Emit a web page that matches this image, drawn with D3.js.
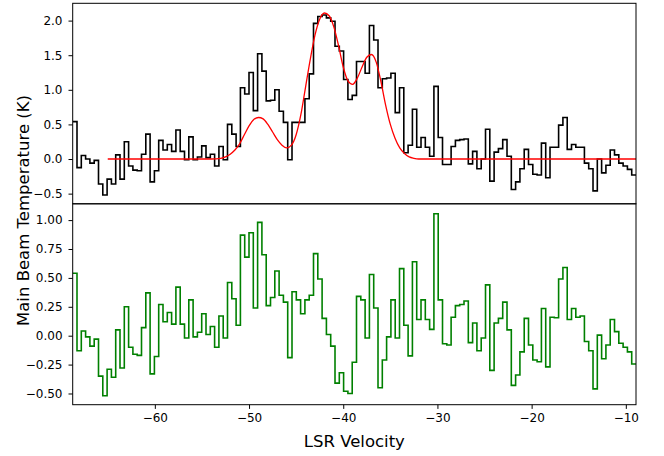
<!DOCTYPE html>
<html>
<head>
<meta charset="utf-8">
<script src="https://cdn.jsdelivr.net/npm/d3@7"></script>
<style>
  html, body { margin: 0; padding: 0; background: #fff; }
  svg { display: block; }
</style>
</head>
<body>
<script>
// channel grid of the spectrum (LSR velocity, km/s)
const vel0 = -68.72;
const chanWidth = 0.4565;

// observed spectrum (K), one value per channel
const dataK = [
  0.54, -0.125, 0.05, 0.00, -0.06, -0.02, -0.36, -0.52, -0.29, -0.36,
  0.06, -0.29, 0.25, -0.10, -0.16, -0.17, 0.07, 0.36, -0.33, -0.17,
  0.27, 0.13, 0.21, 0.11, 0.42, 0.11, -0.01, 0.32, -0.01, 0.03,
  0.19, 0.02, 0.07, -0.10, 0.18, -0.01, 0.50, 0.36, 0.18, 1.03,
  0.94, 1.25, 0.70, 1.52, 1.27, 0.84, 0.85, 1.00, 0.69, 0.53,
  -0.01, 0.53, 0.53, 0.53, 0.87, 1.23, 1.96, 2.06, 2.08, 2.04,
  1.99, 1.63, 1.56, 1.15, 0.86, 0.92, 1.41, 1.41, 1.24, 1.93,
  1.72, 1.03, 1.16, 1.17, 1.24, 0.67, 1.03, 0.09, 0.20, 0.72,
  0.17, 0.31, 0.17, 0.04, 1.05, 0.31, -0.08, -0.08, 0.18, 0.27,
  0.28, 0.29, -0.07, 0.11, -0.14, 0.00, 0.43, -0.32, 0.10, 0.15,
  0.28, 0.04, -0.44, -0.33, -0.14, 0.14, -0.08, -0.22, -0.23, 0.23,
  -0.27, 0.17, 0.17, 0.49, 0.60, 0.14, 0.21, 0.17, 0.17, -0.06,
  -0.14, -0.46, 0.00, -0.20, -0.09, 0.13, 0.06, -0.06, -0.10, -0.15,
  -0.23
];

// residual after subtracting the fit (K)
const residK = [
  0.54, -0.13, 0.04, -0.01, -0.09, -0.03, -0.35, -0.52, -0.29, -0.36,
  0.05, -0.28, 0.25, -0.10, -0.16, -0.17, 0.07, 0.37, -0.33, -0.18,
  0.27, 0.12, 0.20, 0.10, 0.42, 0.10, -0.02, 0.31, -0.01, 0.03,
  0.19, 0.01, 0.08, -0.10, 0.17, -0.02, 0.46, 0.32, 0.09, 0.87,
  0.68, 0.89, 0.24, 0.98, 0.70, 0.26, 0.33, 0.56, 0.35, 0.29,
  -0.19, 0.38, 0.31, 0.19, 0.31, 0.35, 0.71, 0.49, 0.15, 0.01,
  -0.09, -0.41, -0.32, -0.48, -0.50, -0.23, 0.34, 0.31, -0.02, 0.53,
  0.24, -0.45, -0.21, -0.01, 0.31, -0.02, 0.58, 0.09, -0.175, 0.64,
  0.14, 0.31, 0.14, 0.055, 1.055, 0.31, -0.07, -0.08, 0.16, 0.26,
  0.27, 0.30, -0.06, 0.11, -0.13, -0.02, 0.44, -0.30, 0.11, 0.15,
  0.29, 0.05, -0.43, -0.34, -0.14, 0.15, -0.08, -0.21, -0.225, 0.235,
  -0.27, 0.16, 0.155, 0.49, 0.59, 0.14, 0.235, 0.16, 0.17, -0.05,
  -0.13, -0.46, 0.005, -0.20, -0.08, 0.14, 0.035, -0.065, -0.10, -0.14,
  -0.245
];

// gaussian fit, sampled
const fitVel = [
  -65, -54, -53, -52.5, -52, -51.5, -51, -50.5, -50, -49.5,
  -49, -48.5, -48, -47.5, -47, -46.5, -46, -45.5, -45, -44.5,
  -44, -43.5, -43, -42.5, -42, -41.5, -41, -40.5, -40, -39.5,
  -39, -38.5, -38, -37.5, -37, -36.5, -36, -35.5, -35, -34.5,
  -34, -33.5, -33, -32.5, -32, -31, -8.9
];
const fitK = [
  0, 0, 0.01, 0.03, 0.07, 0.13, 0.22, 0.35, 0.48, 0.57,
  0.60, 0.58, 0.50, 0.39, 0.28, 0.20, 0.16, 0.20, 0.35, 0.64,
  1.04, 1.44, 1.79, 2.02, 2.11, 2.07, 1.91, 1.64, 1.33, 1.13,
  1.08, 1.17, 1.33, 1.47, 1.51, 1.40, 1.12, 0.78, 0.50, 0.30,
  0.16, 0.08, 0.03, 0.01, 0, 0, 0
];

const xTicks = [-60, -50, -40, -30, -20, -10];
const topTicks = [-0.5, 0, 0.5, 1, 1.5, 2];
const botTicks = [-0.5, -0.25, 0, 0.25, 0.5, 0.75, 1];

const W = 664, H = 456;
const axLeft = 72.7, axRight = 636, axTop = 3.3, axMid = 203.8, axBottom = 404.7;
const font = "DejaVu Sans, sans-serif";

const svg = d3.select("body").append("svg")
    .attr("width", W)
    .attr("height", H)
    .style("font-family", font);

const x = d3.scaleLinear().domain([-68.72, -8.92]).range([axLeft, axRight]);
const yTop = d3.scaleLinear().domain([-0.647, 2.25]).range([axMid, axTop]);
const yBot = d3.scaleLinear().domain([-0.597, 1.141]).range([axBottom, axMid]);

const defs = svg.append("defs");
defs.append("clipPath").attr("id", "clipTop")
  .append("rect").attr("x", axLeft).attr("y", axTop).attr("width", axRight - axLeft).attr("height", axMid - axTop);
defs.append("clipPath").attr("id", "clipBot")
  .append("rect").attr("x", axLeft).attr("y", axMid).attr("width", axRight - axLeft).attr("height", axBottom - axMid);

function stepPoints(vals) {
  const pts = vals.map((v, i) => [vel0 + i * chanWidth, v]);
  pts.push([vel0 + vals.length * chanWidth, vals[vals.length - 1]]);
  return pts;
}

// top panel: spectrum + fit
const stepTop = d3.line().x(d => x(d[0])).y(d => yTop(d[1])).curve(d3.curveStepAfter);
svg.append("path")
    .attr("clip-path", "url(#clipTop)")
    .attr("d", stepTop(stepPoints(dataK)))
    .attr("fill", "none")
    .attr("stroke", "#000")
    .attr("stroke-width", 1.6);

const fitLine = d3.line()
    .x((d, i) => x(fitVel[i]))
    .y(d => yTop(d))
    .curve(d3.curveMonotoneX);
svg.append("path")
    .attr("clip-path", "url(#clipTop)")
    .attr("d", fitLine(fitK))
    .attr("fill", "none")
    .attr("stroke", "#ff0000")
    .attr("stroke-width", 1.3);

// bottom panel: residual
const stepBot = d3.line().x(d => x(d[0])).y(d => yBot(d[1])).curve(d3.curveStepAfter);
svg.append("path")
    .attr("clip-path", "url(#clipBot)")
    .attr("d", stepBot(stepPoints(residK)))
    .attr("fill", "none")
    .attr("stroke", "#008000")
    .attr("stroke-width", 1.6);

// axes
function styleAxis(g) {
  g.select(".domain").remove();
  g.selectAll(".tick line").attr("stroke", "#000").attr("stroke-width", 1);
  g.selectAll(".tick text")
      .attr("fill", "#000")
      .style("font-size", "12px")
      .style("font-family", font);
}

svg.append("g")
    .attr("transform", `translate(${axLeft},0)`)
    .call(d3.axisLeft(yTop).tickValues(topTicks).tickFormat(d3.format(".1f")).tickSize(4.2).tickPadding(6))
    .call(styleAxis);

svg.append("g")
    .attr("transform", `translate(${axLeft},0)`)
    .call(d3.axisLeft(yBot).tickValues(botTicks).tickFormat(d3.format(".2f")).tickSize(4.2).tickPadding(6))
    .call(styleAxis);

svg.append("g")
    .attr("transform", `translate(0,${axBottom})`)
    .call(d3.axisBottom(x).tickValues(xTicks).tickFormat(d3.format("d")).tickSize(4.2).tickPadding(5))
    .call(styleAxis);

// frames
[[axTop, axMid], [axMid, axBottom]].forEach(([y0, y1]) => {
  svg.append("rect")
      .attr("x", axLeft)
      .attr("y", y0)
      .attr("width", axRight - axLeft)
      .attr("height", y1 - y0)
      .attr("fill", "none")
      .attr("stroke", "#000")
      .attr("stroke-width", 1);
});

// labels
svg.append("text")
    .attr("x", (axLeft + axRight) / 2)
    .attr("y", 447)
    .attr("text-anchor", "middle")
    .style("font-size", "16.5px")
    .text("LSR Velocity");

svg.append("text")
    .attr("transform", "translate(29,210.5) rotate(-90)")
    .attr("text-anchor", "middle")
    .style("font-size", "16.5px")
    .text("Main Beam Temperature (K)");
</script>
</body>
</html>
